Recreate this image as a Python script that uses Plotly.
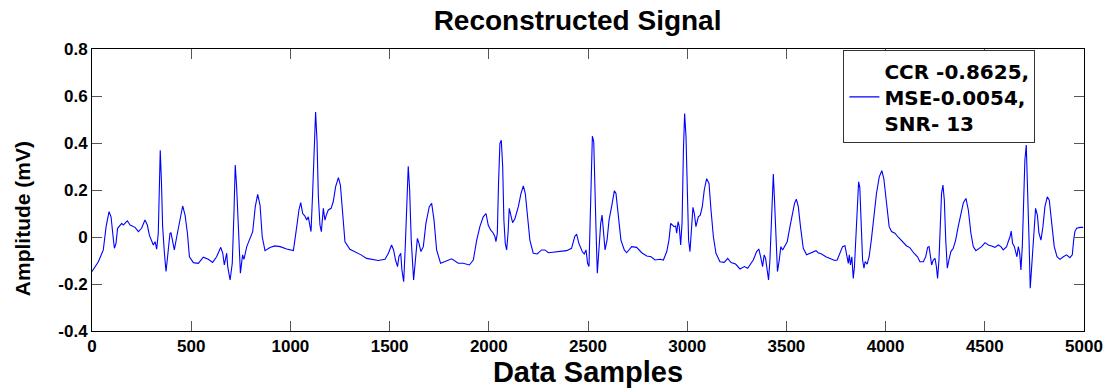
import plotly.graph_objects as go

# Sample index (Data Samples) and reconstructed amplitude (mV)
samples = [
    0, 32, 57, 71, 86, 96, 108, 113, 121, 129, 150, 158, 166, 178, 192, 217, 234, 250, 267, 279,
    289, 301, 309, 318, 326, 334, 339, 344, 350, 356, 365, 373, 381, 393, 398, 407, 415, 427, 444, 457,
    469, 481, 491, 511, 536, 561, 586, 608, 628, 649, 659, 667, 679, 684, 696, 707, 716, 722, 729, 738,
    748, 759, 766, 780, 793, 810, 823, 835, 847,
    858, 872, 897, 922, 948, 981, 1015, 1032, 1043, 1052, 1062, 1073, 1082, 1090, 1097, 1104, 1112, 1121,
    1127, 1134, 1141, 1149, 1156, 1166, 1174, 1181, 1191, 1205, 1216, 1228, 1242, 1252, 1262, 1275, 1300,
    1326, 1356, 1384, 1410, 1443, 1477, 1494, 1510, 1520, 1530, 1540, 1547, 1556, 1562, 1571, 1579, 1586,
    1594, 1601, 1609, 1621, 1630, 1640, 1648, 1658, 1670,
    1683, 1700, 1712, 1724, 1737, 1757, 1779, 1813, 1846, 1871, 1902, 1922, 1939, 1955, 1972, 1986, 1997,
    2009, 2023, 2031, 2036, 2043, 2049, 2056, 2063, 2070, 2076, 2083, 2090, 2097, 2103, 2110, 2120, 2132,
    2149, 2162, 2174, 2184, 2194, 2207, 2224, 2244, 2266, 2283, 2300, 2325, 2359, 2392, 2417, 2434, 2443,
    2454, 2471, 2481, 2490, 2498, 2505,
    2509, 2515, 2522, 2529, 2535, 2540, 2547, 2556, 2564, 2571, 2577, 2586, 2596, 2606, 2619, 2633, 2641,
    2653, 2666, 2683, 2695, 2720, 2745, 2771, 2796, 2818, 2838, 2863, 2880, 2897, 2908, 2917, 2925, 2934,
    2942, 2947, 2954, 2960, 2967, 2974, 2981, 2987, 2994, 3001, 3007, 3014, 3021, 3029, 3036, 3044, 3056,
    3066, 3076, 3086, 3098, 3110, 3120, 3132, 3145, 3165, 3187, 3204, 3221, 3244, 3266, 3288, 3305,
    3316, 3333, 3350, 3361, 3370, 3380, 3388, 3395, 3403, 3410, 3417, 3424, 3429, 3434, 3440, 3447, 3455,
    3464, 3472, 3481, 3489, 3504, 3518, 3531, 3541, 3550, 3560, 3571, 3585, 3602, 3618, 3635, 3649, 3660,
    3677, 3699, 3719, 3744, 3756, 3770, 3783, 3795, 3803, 3812, 3817, 3823, 3830, 3837, 3843, 3850, 3857,
    3864, 3870, 3877, 3884, 3891, 3897, 3907, 3917, 3928, 3941, 3954, 3968, 3981, 3991, 4005, 4018, 4030,
    4047, 4064, 4085, 4106, 4122, 4143,
    4161, 4173, 4190, 4202, 4212, 4219, 4225, 4232, 4240, 4249, 4256, 4262, 4269, 4276, 4282, 4289, 4296,
    4303, 4311, 4319, 4329, 4341, 4353, 4366, 4380, 4392, 4405, 4417, 4430, 4442, 4455, 4471, 4484, 4501,
    4518, 4534, 4551, 4568, 4581, 4593, 4602, 4610, 4618, 4627, 4633, 4640, 4649, 4655, 4662, 4669, 4676,
    4682, 4689, 4696, 4702, 4709, 4716, 4723, 4729, 4736, 4743, 4749, 4756, 4765, 4773, 4783, 4793, 4803,
    4815, 4825, 4837, 4850, 4864, 4879, 4896, 4912, 4929, 4941, 4948, 4954, 4963, 4980, 4996,
]

amplitude = [
    -0.147, -0.105, -0.055, 0.044, 0.108, 0.086, -0.013, -0.048, -0.027, 0.037, 0.058, 0.051, 0.058, 0.069,
    0.051, 0.041, 0.023, 0.037, 0.072, 0.051, 0.008, -0.013, -0.034, -0.020, -0.052, 0.016, 0.228, 0.369,
    0.235, 0.044, -0.069, -0.147, -0.084, 0.016, 0.018, -0.027, -0.055, 0.001, 0.086, 0.132, 0.093, 0.016,
    -0.084, -0.109, -0.112, -0.086, -0.095, -0.108, -0.084, -0.044, -0.069, -0.119, -0.069, -0.126, -0.183,
    -0.112, 0.115, 0.306, 0.214, 0.001, -0.154, -0.076, -0.095, -0.041, -0.013, 0.023, 0.129, 0.181, 0.136,
    0.001, -0.058, -0.045, -0.038, -0.041, -0.051, -0.058, 0.044, 0.115, 0.146, 0.100, 0.089, 0.072, 0.086,
    0.051, 0.023, 0.185, 0.440, 0.532, 0.412, 0.171, 0.051, 0.023, 0.122, 0.072, 0.093, 0.115, 0.122, 0.150,
    0.214, 0.253, 0.221, 0.100, -0.020, -0.052, -0.062, -0.076, -0.091, -0.095, -0.100, -0.095, -0.069,
    -0.034, -0.055, -0.098, -0.126, -0.084, -0.069, -0.140, -0.190, -0.041, 0.157, 0.301, 0.200, -0.013,
    -0.183, -0.098, -0.006, -0.027, -0.062, -0.041,
    0.058, 0.129, 0.143, 0.072, -0.055, -0.112, -0.105, -0.093, -0.112, -0.112, -0.119, -0.098, -0.013,
    0.044, 0.086, 0.100, 0.051, 0.030, 0.016, 0.001, -0.020, 0.016, 0.228, 0.398, 0.412, 0.299, 0.072,
    -0.027, -0.055, 0.016, 0.122, 0.100, 0.061, 0.079, 0.129, 0.185, 0.217, 0.185, 0.086, -0.013, -0.069,
    -0.072, -0.055, -0.055, -0.067, -0.065, -0.062, -0.058, -0.048, 0.004, 0.011, -0.027, -0.062, -0.072,
    -0.055, -0.112, -0.126,
    0.016, 0.228, 0.429, 0.405, 0.257, 0.044, -0.154, -0.041, 0.058, 0.093, 0.030, -0.055, -0.013, 0.072,
    0.129, 0.197, 0.185, 0.100, -0.013, -0.055, -0.067, -0.041, -0.044, -0.067, -0.081, -0.084, -0.098,
    -0.095, -0.098, -0.062, -0.013, 0.058, 0.051, 0.044, 0.047, 0.016, 0.065, 0.044, -0.034, 0.058, 0.369,
    0.525, 0.426, 0.157, -0.013, -0.062, 0.016, 0.126, 0.100, 0.044, 0.086, 0.093, 0.129, 0.200, 0.248,
    0.228, 0.115, 0.001, -0.069, -0.105, -0.108, -0.091, -0.109, -0.115, -0.136, -0.126, -0.133,
    -0.119, -0.098, -0.062, -0.051, -0.084, -0.126, -0.076, -0.091, -0.140, -0.183, -0.098, 0.086, 0.228,
    0.268, 0.157, -0.027, -0.147, -0.098, -0.041, -0.055, -0.041, -0.020, 0.044, 0.100, 0.143, 0.161, 0.129,
    0.044, -0.048, -0.076, -0.069, -0.062, -0.058, -0.067, -0.072, -0.084, -0.091, -0.100, -0.098, -0.069,
    -0.041, -0.037, -0.069, -0.112, -0.076, -0.119, -0.084, -0.176, -0.126, 0.016, 0.157, 0.235, 0.211,
    0.016, -0.098, -0.133, -0.105, -0.115, -0.084, -0.013, 0.100, 0.185, 0.256, 0.282, 0.249, 0.129, 0.044,
    0.023, 0.016, -0.001, -0.020, -0.038, -0.045, -0.069,
    -0.084, -0.105, -0.105, -0.084, -0.044, -0.041, -0.076, -0.119, -0.098, -0.091, -0.126, -0.176, -0.098,
    0.044, 0.185, 0.221, 0.157, -0.013, -0.133, -0.098, -0.062, -0.048, -0.013, 0.044, 0.093, 0.146, 0.164,
    0.115, 0.016, -0.041, -0.058, -0.048, -0.041, -0.024, -0.034, -0.038, -0.044, -0.034, -0.041, -0.055,
    -0.048, -0.041, -0.020, 0.001, 0.025, -0.027, -0.041, -0.062, -0.084, -0.041, -0.069, -0.140, -0.041,
    0.157, 0.327, 0.391, 0.228, -0.013, -0.218, -0.126, -0.013, 0.072, 0.122, 0.093, 0.016, -0.013, 0.044,
    0.129, 0.171, 0.157, 0.058, -0.041, -0.084, -0.095, -0.084, -0.076, -0.088, -0.076, -0.013, 0.023,
    0.037, 0.041, 0.041,
]

x_ticks = [0, 500, 1000, 1500, 2000, 2500, 3000, 3500, 4000, 4500, 5000]
y_ticks = [-0.4, -0.2, 0, 0.2, 0.4, 0.6, 0.8]
y_tick_labels = ["-0.4", "-0.2", "0", "0.2", "0.4", "0.6", "0.8"]
legend_label = "<b>CCR -0.8625,<br>MSE-0.0054,<br>SNR- 13</b>"

assert len(samples) == len(amplitude)

FONT = "Liberation Sans, Arial, sans-serif"

fig = go.Figure()
fig.add_trace(go.Scatter(
    x=samples, y=amplitude, mode="lines", name=legend_label,
    line=dict(color="#0000FF", width=1.1),
))

fig.update_layout(
    width=1115, height=388,
    margin=dict(l=92, r=31, t=49, b=57),
    paper_bgcolor="white", plot_bgcolor="white",
    font=dict(family=FONT, color="black"),
    title=dict(
        text="<b>Reconstructed Signal</b>",
        font=dict(family=FONT, size=28, color="black"),
        x=0.518, xref="container", xanchor="center",
        y=0.948, yref="container", yanchor="middle",
    ),
    showlegend=True,
    legend=dict(
        x=0.951, xanchor="right", y=0.995, yanchor="top",
        bgcolor="white", bordercolor="#333333", borderwidth=1,
        font=dict(family="DejaVu Sans, sans-serif", size=20, color="black"),
        tracegroupgap=0, itemwidth=30,
    ),
    annotations=[dict(
        text="<b>Amplitude (mV)</b>", textangle=-90, showarrow=False,
        xref="paper", x=-0.0706, xanchor="center",
        yref="y", y=0.08, yanchor="middle",
        font=dict(family=FONT, size=21, color="black"),
    )],
)

fig.update_xaxes(
    range=[0, 5000], tickvals=x_ticks,
    ticktext=[f"<b>{t}</b>" for t in x_ticks],
    ticks="inside", ticklen=10, tickcolor="#555555", tickwidth=1,
    showline=True, linecolor="black", linewidth=1, mirror="ticks",
    showgrid=False, zeroline=False,
    tickfont=dict(family=FONT, size=17, color="black"),
    title=dict(text="<b>Data Samples</b>", font=dict(family=FONT, size=29, color="black"), standoff=1),
    automargin=False,
)
fig.update_yaxes(
    range=[-0.4, 0.8], tickvals=y_ticks,
    ticktext=[f"<b>{t}</b>" for t in y_tick_labels],
    ticks="inside", ticklen=10, tickcolor="#555555", tickwidth=1,
    showline=True, linecolor="black", linewidth=1, mirror="ticks",
    showgrid=False, zeroline=False,
    tickfont=dict(family=FONT, size=17, color="black"),
    automargin=False,
)

fig.write_html("out.html")
